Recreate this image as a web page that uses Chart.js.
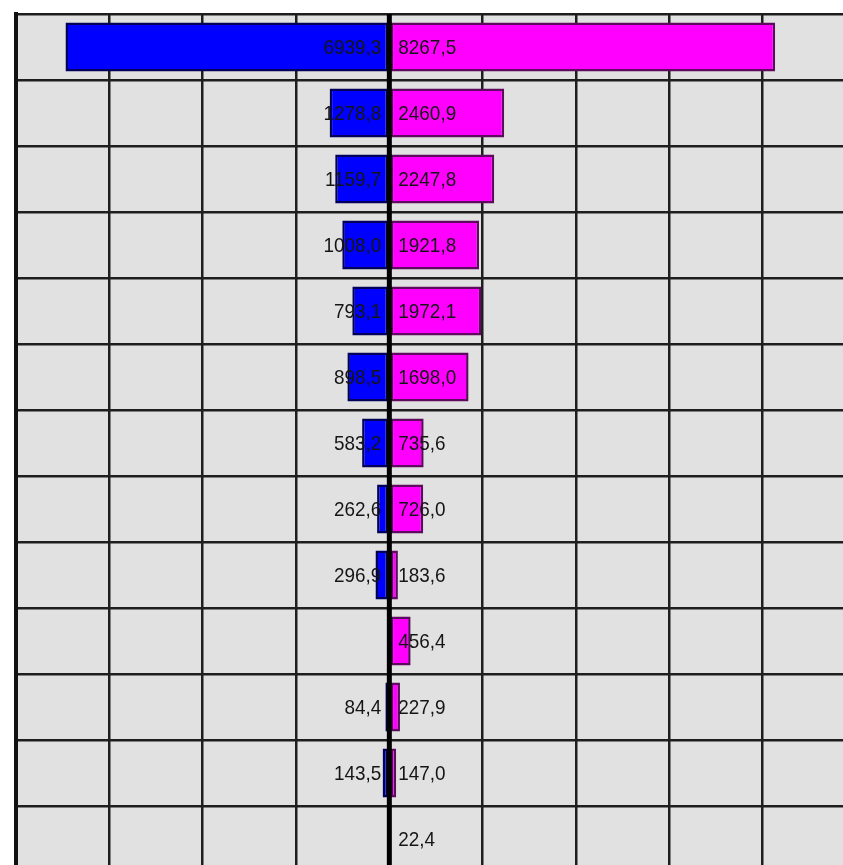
<!DOCTYPE html>
<html>
<head>
<meta charset="utf-8">
<script src="https://cdn.jsdelivr.net/npm/chart.js@4.4.1/dist/chart.umd.min.js"></script>
<style>
    html, body { margin: 0; padding: 0; background: #fff; overflow: hidden; }
    #wrap { position: absolute; left: 0; top: 0; width: 860px; height: 880px; }
</style>
</head>
<body>
<div id="wrap"><canvas id="pyramid"></canvas></div>
<script>
// filas del gráfico (de arriba hacia abajo)
const categories = ['1', '2', '3', '4', '5', '6', '7', '8', '9', '10', '11', '12', '13'];
// serie azul (lado izquierdo)
const blueValues = [6939.3, 1278.8, 1159.7, 1008.0, 793.1, 898.5, 583.2, 262.6, 296.9, null, 84.4, 143.5, null];
// serie magenta (lado derecho)
const magentaValues = [8267.5, 2460.9, 2247.8, 1921.8, 1972.1, 1698.0, 735.6, 726.0, 183.6, 456.4, 227.9, 147.0, 22.4];
// eje x: límites y paso
const xTicks = [-8000, 10000, 2000];

const fmt = (v) => v.toFixed(1).replace('.', ',');

// fondo gris del área de trazado
const plotBackground = {
    id: 'plotBackground',
    beforeDraw(chart) {
        const { ctx, chartArea: a } = chart;
        ctx.save();
        ctx.fillStyle = '#e1e1e1';
        ctx.fillRect(a.left, a.top, a.right - a.left, a.bottom - a.top);
        ctx.restore();
    }
};

// línea central y etiquetas de valores
const centerAndLabels = {
    id: 'centerAndLabels',
    afterDatasetsDraw(chart) {
        const { ctx, chartArea: a } = chart;
        const x0 = chart.scales.x.getPixelForValue(0);
        ctx.save();
        ctx.strokeStyle = '#000';
        ctx.lineWidth = 5;
        ctx.beginPath();
        ctx.moveTo(x0, a.top);
        ctx.lineTo(x0, a.bottom);
        ctx.stroke();

        ctx.font = '21px "Liberation Sans", Arial, sans-serif';
        ctx.fillStyle = '#151515';
        ctx.textBaseline = 'middle';
        chart.data.datasets.forEach((ds, i) => {
            const meta = chart.getDatasetMeta(i);
            meta.data.forEach((bar, j) => {
                const v = ds.raw[j];
                if (v === null || v === undefined) return;
                const txt = fmt(v);
                // texto algo estrecho, como en el original
                ctx.save();
                ctx.translate(i === 0 ? x0 - 8 : x0 + 9, bar.y + 1);
                ctx.scale(0.9, 1);
                ctx.textAlign = i === 0 ? 'right' : 'left';
                ctx.fillText(txt, 0, 0);
                ctx.restore();
            });
        });
        ctx.restore();
    }
};

new Chart(document.getElementById('pyramid'), {
    type: 'bar',
    data: {
        labels: categories,
        datasets: [
            {
                raw: blueValues,
                data: blueValues.map(v => v === null ? null : -v),
                backgroundColor: '#0000ff',
                borderColor: '#00005a',
                borderWidth: 2.5,
                borderSkipped: false
            },
            {
                raw: magentaValues,
                data: magentaValues,
                backgroundColor: '#ff00ff',
                borderColor: '#5e0a5e',
                borderWidth: 2.5,
                borderSkipped: false
            }
        ]
    },
    options: {
        indexAxis: 'y',
        responsive: true,
        maintainAspectRatio: false,
        animation: false,
        layout: { padding: { left: 16, top: 14, right: 4, bottom: 8 } },
        datasets: { bar: { barPercentage: 0.74, categoryPercentage: 1 } },
        plugins: {
            legend: { display: false },
            tooltip: { enabled: false }
        },
        scales: {
            x: {
                stacked: true,
                min: xTicks[0],
                max: xTicks[1],
                ticks: { stepSize: xTicks[2], display: false },
                grid: { color: '#1e1e1e', lineWidth: 2.5, drawTicks: false },
                border: { display: false }
            },
            y: {
                stacked: true,
                ticks: { display: false },
                grid: { color: '#1e1e1e', lineWidth: 2.5, drawTicks: false },
                border: { display: true, color: '#111', width: 4 }
            }
        }
    },
    plugins: [plotBackground, centerAndLabels]
});
</script>
</body>
</html>
